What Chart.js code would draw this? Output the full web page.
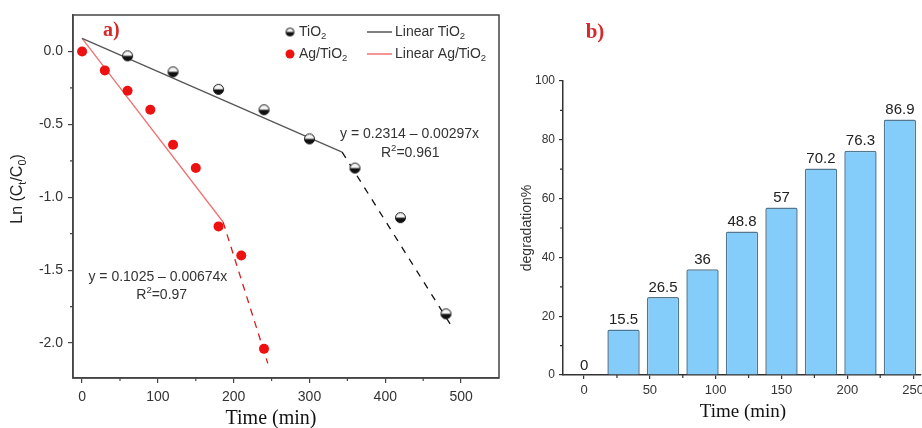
<!DOCTYPE html>
<html>
<head>
<meta charset="utf-8">
<script src="https://cdn.jsdelivr.net/npm/chart.js@4.4.1/dist/chart.umd.min.js"></script>
<style>
  body { margin: 0; width: 922px; height: 428px; overflow: hidden; background: #fff; position: relative; }
  canvas { position: absolute; top: 0; }
  #chartA { left: 0; }
  #chartB { left: 515px; }
</style>
</head>
<body>
<canvas id="chartA" width="515" height="428"></canvas>
<canvas id="chartB" width="430" height="428"></canvas>
<script>
// panel a) ln(Ct/C0) vs time
const timeTiO2 = [60, 120, 180, 240, 300, 360, 420, 480];
const lnTiO2 = [-0.03, -0.14, -0.26, -0.40, -0.60, -0.80, -1.14, -1.80];
const timeAg = [0, 30, 60, 90, 120, 150, 180, 210, 240];
const lnAg = [0, -0.13, -0.27, -0.40, -0.64, -0.80, -1.20, -1.40, -2.04];

// fitted lines (solid) and their dashed continuation
const fitTiO2X = [0, 343], fitTiO2Y = [0.09, -0.69];
const extTiO2X = [343, 488], extTiO2Y = [-0.69, -1.89];
const fitAgX = [0, 186], fitAgY = [0.09, -1.17];
const extAgX = [186, 245], extAgY = [-1.17, -2.14];

// panel b) degradation %
const degTime = [0, 30, 60, 90, 120, 150, 180, 210, 240];
const degValues = [0, 15.5, 26.5, 36, 48.8, 57, 70.2, 76.3, 86.9];

// ticks
const ticksAX = [0, 100, 200, 300, 400, 500];
const minorAX = [50, 150, 250, 350, 450];
const ticksAY = [-2.0, -1.5, -1.0, -0.5, 0.0];
const minorAY = [-1.75, -1.25, -0.75, -0.25];
const ticksBX = [0, 50, 100, 150, 200, 250];
const minorBX = [25, 75, 125, 175, 225];
const ticksBY = [0, 20, 40, 60, 80, 100];
const minorBY = [10, 30, 50, 70, 90];

const SANS = "'Liberation Sans', Arial, sans-serif";
const SERIF = "'Liberation Serif', 'Times New Roman', serif";
Chart.defaults.font.family = SANS;

function pts(xs, ys) { return xs.map((x, i) => ({x: x, y: ys[i]})); }

// half black / half white ball marker
function halfBall(r) {
  const c = document.createElement('canvas');
  const s = 2 * r + 3;
  c.width = c.height = s;
  const g = c.getContext('2d');
  const m = s / 2;
  g.beginPath(); g.arc(m, m, r, 0, Math.PI * 2); g.fillStyle = '#f4f4f4'; g.fill();
  g.beginPath(); g.arc(m, m, r, 0, Math.PI); g.fillStyle = '#111'; g.fill();
  g.beginPath(); g.arc(m, m, r, 0, Math.PI * 2); g.lineWidth = 1; g.strokeStyle = '#111'; g.stroke();
  return c;
}
const ballImg = halfBall(5);
const ballSmall = halfBall(4);

// text with sub/superscripts: parts = [[text, kind]], kind 0 normal, 1 sub, 2 sup
function richWidth(ctx, parts, size) {
  let w = 0;
  parts.forEach(p => {
    ctx.font = (p[1] ? size * 0.68 : size) + 'px ' + SANS;
    w += ctx.measureText(p[0]).width;
  });
  return w;
}
function drawRich(ctx, parts, x, y, size, align) {
  let cx = x;
  if (align === 'center') cx = x - richWidth(ctx, parts, size) / 2;
  ctx.textAlign = 'left';
  ctx.textBaseline = 'middle';
  parts.forEach(p => {
    ctx.font = (p[1] ? size * 0.68 : size) + 'px ' + SANS;
    let yy = y;
    if (p[1] === 1) yy = y + size * 0.3;
    if (p[1] === 2) yy = y - size * 0.3;
    ctx.fillText(p[0], cx, yy);
    cx += ctx.measureText(p[0]).width;
  });
}

function setTicks(arr) { return scale => { scale.ticks = arr.map(v => ({value: v})); }; }

const axisExtras = {
  id: 'axisExtras',
  afterDraw(chart, args, o) {
    const ctx = chart.ctx, sx = chart.scales.x, sy = chart.scales.y, a = chart.chartArea;
    ctx.save();
    ctx.strokeStyle = o.color;
    ctx.lineWidth = 1.2;
    ctx.beginPath();
    o.minorX.forEach(v => { const p = sx.getPixelForValue(v); ctx.moveTo(p, a.bottom); ctx.lineTo(p, a.bottom + o.len); });
    o.minorY.forEach(v => { const p = sy.getPixelForValue(v); ctx.moveTo(a.left, p); ctx.lineTo(a.left - o.len, p); });
    ctx.stroke();
    if (o.frame) {
      ctx.lineWidth = 1.5;
      ctx.strokeRect(a.left, a.top, a.right - a.left, a.bottom - a.top);
    }
    ctx.restore();
  }
};

const textA = {
  id: 'textA',
  afterDraw(chart) {
    const ctx = chart.ctx, sx = chart.scales.x, sy = chart.scales.y;
    ctx.save();
    ctx.fillStyle = '#d62a2a';
    ctx.font = 'bold 20px ' + SERIF;
    ctx.textAlign = 'left'; ctx.textBaseline = 'middle';
    ctx.fillText('a)', 103, 31);
    ctx.fillStyle = '#111';
    ctx.font = '20px ' + SERIF;
    ctx.textAlign = 'center';
    ctx.fillText('Time (min)', 271, 419);
    ctx.fillStyle = '#222';
    ctx.save();
    ctx.translate(18, 189);
    ctx.rotate(-Math.PI / 2);
    drawRich(ctx, [['Ln (C', 0], ['t', 1], ['/C', 0], ['0', 1], [')', 0]], 0, 0, 16, 'center');
    ctx.restore();
    // fit equations
    ctx.fillStyle = '#333';
    drawRich(ctx, [['y = 0.2314 \u2013 0.00297x', 0]], sx.getPixelForValue(432), sy.getPixelForValue(-0.57), 14, 'center');
    drawRich(ctx, [['R', 0], ['2', 2], ['=0.961', 0]], sx.getPixelForValue(433), sy.getPixelForValue(-0.695), 14, 'center');
    drawRich(ctx, [['y = 0.1025 \u2013 0.00674x', 0]], sx.getPixelForValue(100), sy.getPixelForValue(-1.547), 14, 'center');
    drawRich(ctx, [['R', 0], ['2', 2], ['=0.97', 0]], sx.getPixelForValue(105), sy.getPixelForValue(-1.671), 14, 'center');
    // legend
    ctx.drawImage(ballSmall, 290 - ballSmall.width / 2, 32 - ballSmall.height / 2);
    ctx.fillStyle = '#ee1111';
    ctx.beginPath(); ctx.arc(290, 54, 4.5, 0, Math.PI * 2); ctx.fill();
    ctx.lineWidth = 1.5;
    ctx.strokeStyle = '#555';
    ctx.beginPath(); ctx.moveTo(367, 32); ctx.lineTo(392, 32); ctx.stroke();
    ctx.strokeStyle = '#f07070';
    ctx.beginPath(); ctx.moveTo(367, 54); ctx.lineTo(392, 54); ctx.stroke();
    ctx.fillStyle = '#333';
    drawRich(ctx, [['TiO', 0], ['2', 1]], 299, 32, 14, 'left');
    drawRich(ctx, [['Ag/TiO', 0], ['2', 1]], 299, 54, 14, 'left');
    drawRich(ctx, [['Linear TiO', 0], ['2', 1]], 395, 32, 14, 'left');
    drawRich(ctx, [['Linear Ag/TiO', 0], ['2', 1]], 395, 54, 14, 'left');
    ctx.restore();
  }
};

new Chart(document.getElementById('chartA'), {
  type: 'scatter',
  data: {
    datasets: [
      { label: 'TiO2', data: pts(timeTiO2, lnTiO2), pointStyle: ballImg, pointRadius: 5 },
      { label: 'Ag/TiO2', data: pts(timeAg, lnAg), backgroundColor: '#ee1111', borderColor: '#ee1111', pointRadius: 5, pointBorderWidth: 0 },
      { label: 'Linear TiO2', data: pts(fitTiO2X, fitTiO2Y), showLine: true, borderColor: '#555', borderWidth: 1.3, pointRadius: 0 },
      { label: 'ext TiO2', data: pts(extTiO2X, extTiO2Y), showLine: true, borderColor: '#111', borderWidth: 1.3, borderDash: [7, 7], pointRadius: 0 },
      { label: 'Linear Ag/TiO2', data: pts(fitAgX, fitAgY), showLine: true, borderColor: '#f07070', borderWidth: 1.3, pointRadius: 0 },
      { label: 'ext Ag/TiO2', data: pts(extAgX, extAgY), showLine: true, borderColor: '#d81c1c', borderWidth: 1.3, borderDash: [7, 6], pointRadius: 0 }
    ]
  },
  options: {
    responsive: false,
    animation: false,
    devicePixelRatio: 1,
    layout: { padding: { top: 15, right: 16, left: 0, bottom: 0 } },
    plugins: {
      legend: { display: false },
      tooltip: { enabled: false },
      axisExtras: { color: '#444', len: 3, minorX: minorAX, minorY: minorAY, frame: true }
    },
    scales: {
      x: {
        type: 'linear', min: -12, max: 550,
        afterBuildTicks: setTicks(ticksAX),
        afterFit: s => { s.height = 50; },
        grid: { drawOnChartArea: false, tickLength: 5, color: '#444', lineWidth: 1.2 },
        border: { color: '#444', width: 1.5 },
        ticks: { color: '#333', font: { size: 14 }, padding: 6, maxRotation: 0 }
      },
      y: {
        type: 'linear', min: -2.24, max: 0.25,
        afterBuildTicks: setTicks(ticksAY),
        afterFit: s => { s.width = 73; },
        grid: { drawOnChartArea: false, tickLength: 5, color: '#444', lineWidth: 1.2 },
        border: { color: '#444', width: 1.5 },
        ticks: { color: '#333', font: { size: 14 }, padding: 5, callback: v => v.toFixed(1) }
      }
    }
  },
  plugins: [axisExtras, textA]
});

const textB = {
  id: 'textB',
  afterDraw(chart) {
    const ctx = chart.ctx;
    ctx.save();
    // value labels on bars
    ctx.fillStyle = '#222';
    ctx.font = '15px ' + SANS;
    ctx.textAlign = 'center'; ctx.textBaseline = 'bottom';
    chart.getDatasetMeta(0).data.forEach((bar, i) => {
      ctx.fillText(String(degValues[i]), bar.x, bar.y - 2);
    });
    ctx.fillStyle = '#d62a2a';
    ctx.font = 'bold 21px ' + SERIF;
    ctx.textBaseline = 'middle';
    ctx.fillText('b)', 80, 33);
    ctx.fillStyle = '#111';
    ctx.font = '19px ' + SERIF;
    ctx.fillText('Time (min)', 228, 412);
    ctx.fillStyle = '#333';
    ctx.font = '14px ' + SANS;
    ctx.translate(12, 228);
    ctx.rotate(-Math.PI / 2);
    ctx.fillText('degradation%', 0, 0);
    ctx.restore();
  }
};

new Chart(document.getElementById('chartB'), {
  type: 'bar',
  data: {
    datasets: [{
      data: pts(degTime, degValues),
      backgroundColor: '#84cdfb',
      borderColor: '#52778f',
      borderWidth: 1.5,
      borderRadius: 2,
      borderSkipped: 'bottom',
      categoryPercentage: 0.82,
      barPercentage: 1
    }]
  },
  options: {
    responsive: false,
    animation: false,
    devicePixelRatio: 1,
    layout: { padding: { top: 81, right: 24, left: 0, bottom: 0 } },
    plugins: {
      legend: { display: false },
      tooltip: { enabled: false },
      axisExtras: { color: '#333', len: 3, minorX: minorBX, minorY: minorBY, frame: false }
    },
    scales: {
      x: {
        type: 'linear', min: -16, max: 256, offset: false,
        afterBuildTicks: setTicks(ticksBX),
        afterFit: s => { s.height = 53; },
        grid: { offset: false, drawOnChartArea: false, tickLength: 4, color: '#333', lineWidth: 1.2 },
        border: { color: '#333', width: 1.5 },
        ticks: { color: '#333', font: { size: 13 }, padding: 4, maxRotation: 0 }
      },
      y: {
        min: 0, max: 100,
        afterBuildTicks: setTicks(ticksBY),
        afterFit: s => { s.width = 48; },
        grid: { drawOnChartArea: false, tickLength: 4, color: '#333', lineWidth: 1.2 },
        border: { color: '#333', width: 1.5 },
        ticks: { color: '#333', font: { size: 12 }, padding: 4 }
      }
    }
  },
  plugins: [axisExtras, textB]
});
</script>
</body>
</html>
